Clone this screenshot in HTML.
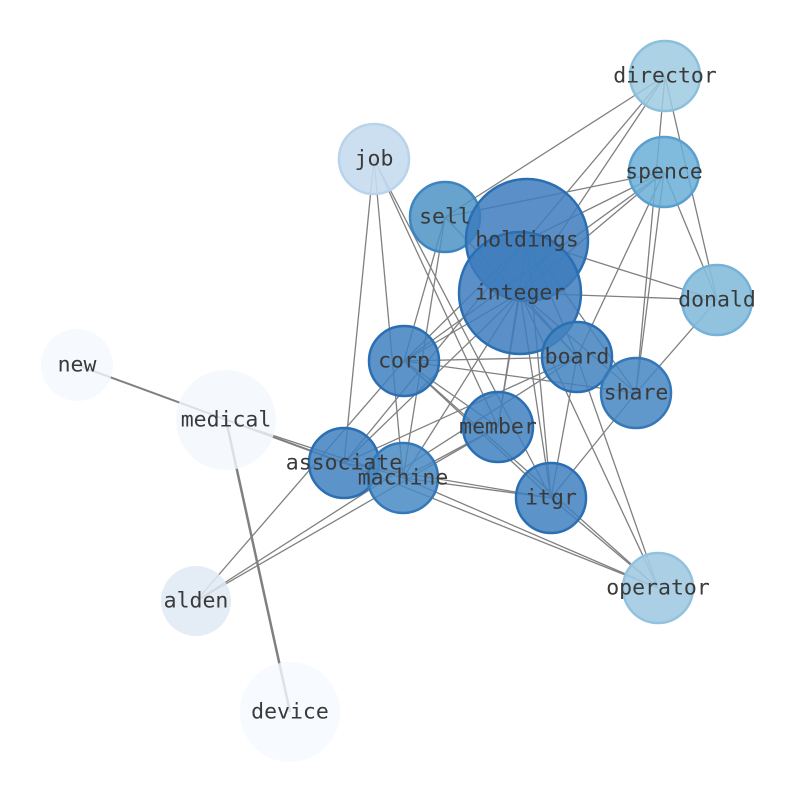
<!DOCTYPE html>
<html><head><meta charset="utf-8"><style>html,body{margin:0;padding:0;background:#fff}</style></head>
<body>
<svg width="794" height="790" xmlns="http://www.w3.org/2000/svg">
<g stroke="#808080" stroke-width="1.3" fill="none">
<line x1="665" y1="76" x2="445" y2="217"/>
<line x1="665" y1="76" x2="520" y2="293"/>
<line x1="665" y1="76" x2="717" y2="300"/>
<line x1="665" y1="76" x2="636" y2="393"/>
<line x1="665" y1="76" x2="527" y2="240"/>
<line x1="664" y1="172" x2="445" y2="217"/>
<line x1="664" y1="172" x2="527" y2="240"/>
<line x1="664" y1="172" x2="520" y2="293"/>
<line x1="664" y1="172" x2="404" y2="361"/>
<line x1="664" y1="172" x2="717" y2="300"/>
<line x1="664" y1="172" x2="636" y2="393"/>
<line x1="664" y1="172" x2="577" y2="357"/>
<line x1="374" y1="159" x2="344" y2="463"/>
<line x1="374" y1="159" x2="403" y2="478"/>
<line x1="374" y1="159" x2="498" y2="427"/>
<line x1="374" y1="159" x2="551" y2="498"/>
<line x1="445" y1="217" x2="404" y2="361"/>
<line x1="445" y1="217" x2="403" y2="478"/>
<line x1="445" y1="217" x2="577" y2="357"/>
<line x1="527" y1="240" x2="717" y2="300"/>
<line x1="527" y1="240" x2="404" y2="361"/>
<line x1="527" y1="240" x2="344" y2="463"/>
<line x1="527" y1="240" x2="577" y2="357"/>
<line x1="527" y1="240" x2="636" y2="393"/>
<line x1="527" y1="240" x2="551" y2="498"/>
<line x1="527" y1="240" x2="498" y2="427"/>
<line x1="520" y1="293" x2="717" y2="300"/>
<line x1="520" y1="293" x2="404" y2="361"/>
<line x1="520" y1="293" x2="344" y2="463"/>
<line x1="520" y1="293" x2="403" y2="478"/>
<line x1="520" y1="293" x2="577" y2="357"/>
<line x1="520" y1="293" x2="636" y2="393"/>
<line x1="520" y1="293" x2="551" y2="498"/>
<line x1="520" y1="293" x2="498" y2="427"/>
<line x1="520" y1="293" x2="658" y2="588"/>
<line x1="77" y1="365" x2="344" y2="463" stroke-width="2"/>
<line x1="226" y1="420" x2="290" y2="712" stroke-width="2.5"/>
<line x1="226" y1="420" x2="403" y2="478"/>
<line x1="196" y1="601" x2="404" y2="361"/>
<line x1="196" y1="601" x2="498" y2="427"/>
<line x1="196" y1="601" x2="577" y2="357"/>
<line x1="404" y1="361" x2="577" y2="357"/>
<line x1="404" y1="361" x2="551" y2="498"/>
<line x1="404" y1="361" x2="498" y2="427"/>
<line x1="404" y1="361" x2="658" y2="588"/>
<line x1="404" y1="361" x2="636" y2="393"/>
<line x1="344" y1="463" x2="551" y2="498"/>
<line x1="344" y1="463" x2="658" y2="588"/>
<line x1="344" y1="463" x2="577" y2="357"/>
<line x1="403" y1="478" x2="551" y2="498"/>
<line x1="403" y1="478" x2="658" y2="588"/>
<line x1="403" y1="478" x2="498" y2="427"/>
<line x1="551" y1="498" x2="658" y2="588"/>
<line x1="551" y1="498" x2="636" y2="393"/>
<line x1="551" y1="498" x2="577" y2="357"/>
<line x1="577" y1="357" x2="658" y2="588"/>
<line x1="636" y1="393" x2="717" y2="300"/>
</g>
<g stroke-width="2.5">
<circle cx="665" cy="76" r="35" fill="#9ecae1" stroke="#8cbfdc" fill-opacity="0.85"/>
<circle cx="664" cy="172" r="35" fill="#6aaed6" stroke="#5aa0cf" fill-opacity="0.85"/>
<circle cx="374" cy="159" r="35" fill="#c6dbef" stroke="#b8d3ea" fill-opacity="0.9"/>
<circle cx="717" cy="300" r="35" fill="#85bcdc" stroke="#75b2d7" fill-opacity="0.9"/>
<circle cx="77" cy="365" r="36" fill="#f4f8fd" fill-opacity="0.8"/>
<circle cx="226" cy="420" r="50" fill="#f2f7fd" fill-opacity="0.8"/>
<circle cx="196" cy="601" r="35" fill="#dfe9f5" fill-opacity="0.85"/>
<circle cx="658" cy="588" r="35" fill="#a2cbe2" stroke="#92c2de" fill-opacity="0.9"/>
<circle cx="290" cy="712" r="50" fill="#f5f9fe" fill-opacity="0.8"/>
<circle cx="445" cy="217" r="35" fill="#4e93c6" stroke="#3d85c0" fill-opacity="0.85"/>
<circle cx="527" cy="240" r="61" fill="#3d7dbd" stroke="#2b6fb3" fill-opacity="0.85"/>
<circle cx="520" cy="293" r="61" fill="#3d7dbd" stroke="#2b6fb3" fill-opacity="0.85"/>
<circle cx="404" cy="361" r="35" fill="#3f80bf" stroke="#2b6fb3" fill-opacity="0.85"/>
<circle cx="577" cy="357" r="35" fill="#4282c0" stroke="#2b6fb3" fill-opacity="0.85"/>
<circle cx="636" cy="393" r="35" fill="#4586c2" stroke="#3478b8" fill-opacity="0.85"/>
<circle cx="498" cy="427" r="35" fill="#3f80bf" stroke="#2b6fb3" fill-opacity="0.85"/>
<circle cx="344" cy="463" r="35" fill="#3f80bf" stroke="#2b6fb3" fill-opacity="0.85"/>
<circle cx="403" cy="478" r="35" fill="#4889c4" stroke="#3478b8" fill-opacity="0.85"/>
<circle cx="551" cy="498" r="35" fill="#3f80bf" stroke="#2b6fb3" fill-opacity="0.85"/>
</g>
<g font-family="DejaVu Sans Mono, Liberation Mono, monospace" font-size="21.5" fill="#3a3a3a" text-anchor="middle" dominant-baseline="central">
<text x="665" y="76">director</text>
<text x="664" y="172">spence</text>
<text x="374" y="159">job</text>
<text x="445" y="217">sell</text>
<text x="527" y="240">holdings</text>
<text x="520" y="293">integer</text>
<text x="717" y="300">donald</text>
<text x="77" y="365">new</text>
<text x="226" y="420">medical</text>
<text x="404" y="361">corp</text>
<text x="577" y="357">board</text>
<text x="636" y="393">share</text>
<text x="498" y="427">member</text>
<text x="344" y="463">associate</text>
<text x="403" y="478">machine</text>
<text x="551" y="498">itgr</text>
<text x="196" y="601">alden</text>
<text x="658" y="588">operator</text>
<text x="290" y="712">device</text>
</g>
</svg>
</body></html>
